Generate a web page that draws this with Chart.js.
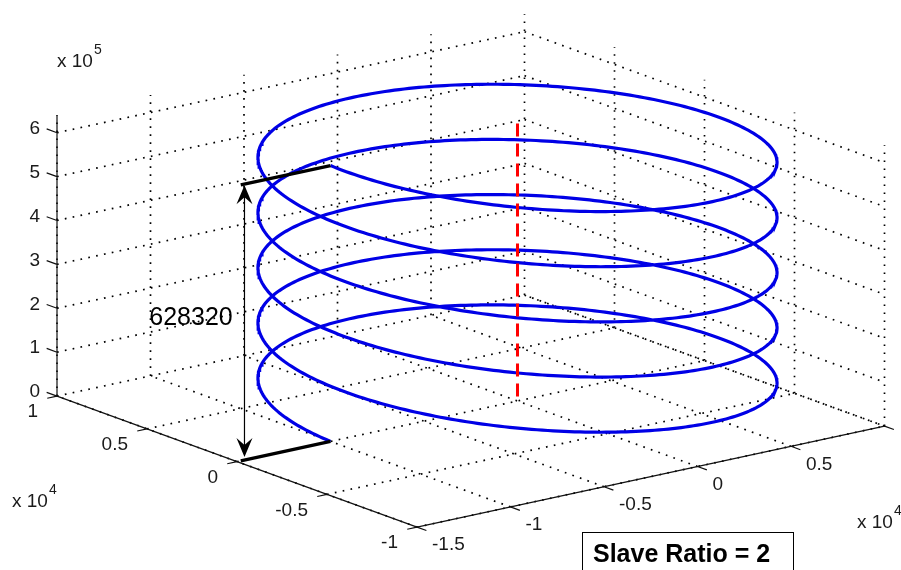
<!DOCTYPE html>
<html>
<head>
<meta charset="utf-8">
<script src="https://cdn.jsdelivr.net/npm/chart.js@4.4.1/dist/chart.umd.min.js"></script>
<style>
html, body { margin: 0; padding: 0; background: #fff; }
#contenedor { width: 901px; height: 570px; }
</style>
</head>
<body>
<div id="contenedor"><canvas id="graficoHelice" width="901" height="570"></canvas></div>
<script>
// ===== datos =====
const radio = 1e4;              // radio de la helice
const slaveRatio = 2;           // z = ratio * radio * angulo
const vueltas = 5;
const alturaMedida = 628320;    // cota de la flecha
const ejeRojoZ = [10000, 645000];   // eje de la helice (x=0, y=0)
const lineasNegrasX = [-14800, -10000];
const flechaX = -14600;

// limites y ticks (x,y en 1e4, z en 1e5)
const limX = [-1.5, 1];
const limY = [-1, 1];
const limZ = [0, 6.4];
const xTicks = [-1.5, -1, -0.5, 0, 0.5, 1];
const xTickLabels = ['-1.5', '-1', '-0.5', '0', '0.5', ''];
const yTicks = [-1, -0.5, 0, 0.5, 1];
const yTickLabels = ['-1', '-0.5', '0', '0.5', '1'];
const zTicks = [0, 1, 2, 3, 4, 5, 6];
const zTickLabels = ['0', '1', '2', '3', '4', '5', '6'];

// ===== vista (proyeccion ortografica, pixeles por unidad) =====
const VISTA = { o: [517.5, 401], ex: [187, -40.4], ey: [-180, -65.5], ez: [0, -43.9] };

function proy(x, y, z) {
    return {
        x: VISTA.o[0] + x * VISTA.ex[0] + y * VISTA.ey[0] + z * VISTA.ez[0],
        y: VISTA.o[1] + x * VISTA.ex[1] + y * VISTA.ey[1] + z * VISTA.ez[1]
    };
}
// datos reales -> unidades de ejes
const p3 = (x, y, z) => proy(x / 1e4, y / 1e4, z / 1e5);

// segmentos sueltos separados por huecos
function segmentos(lista) {
    let out = [];
    lista.forEach(s => { out.push(s[0], s[1], { x: null, y: null }); });
    return out;
}

// helice
let puntosHelice = [];
const pasos = 1500;
for (let i = 0; i <= pasos; i++) {
    let t = i / pasos * vueltas * 2 * Math.PI;
    puntosHelice.push(p3(-radio * Math.cos(t), radio * Math.sin(t), slaveRatio * radio * t));
}

// rejilla punteada
let rejilla = [];
xTicks.forEach(v => {
    rejilla.push([proy(v, limY[0], 0), proy(v, limY[1], 0)]);              // suelo
    rejilla.push([proy(v, limY[1], limZ[0]), proy(v, limY[1], limZ[1])]);  // pared izq
});
yTicks.forEach(v => {
    rejilla.push([proy(limX[0], v, 0), proy(limX[1], v, 0)]);              // suelo
    rejilla.push([proy(limX[1], v, limZ[0]), proy(limX[1], v, limZ[1])]);  // pared der
});
zTicks.forEach(v => {
    rejilla.push([proy(limX[0], limY[1], v), proy(limX[1], limY[1], v)]);
    rejilla.push([proy(limX[1], limY[1], v), proy(limX[1], limY[0], v)]);
});

// ejes y marcas
function unit(v) { let n = Math.hypot(v[0], v[1]); return [v[0] / n, v[1] / n]; }
const dirZt = unit(VISTA.ey), dirYt = unit([-VISTA.ex[0], -VISTA.ex[1]]), dirXt = unit([-VISTA.ey[0], -VISTA.ey[1]]);
let ejes = [
    [proy(limX[0], limY[1], limZ[0]), proy(limX[0], limY[1], limZ[1])],
    [proy(limX[0], limY[0], 0), proy(limX[0], limY[1], 0)],
    [proy(limX[0], limY[0], 0), proy(limX[1], limY[0], 0)]
];
const tk = (p, d, l) => [p, { x: p.x + d[0] * l, y: p.y + d[1] * l }];
zTicks.forEach(v => ejes.push(tk(proy(limX[0], limY[1], v), dirZt, 11)));
yTicks.forEach(v => ejes.push(tk(proy(limX[0], v, 0), dirYt, 10)));
xTicks.forEach(v => ejes.push(tk(proy(v, limY[0], 0), dirXt, 10)));

// lineas negras y eje rojo
const lineasNegras = [
    [p3(lineasNegrasX[0], 0, 0), p3(lineasNegrasX[1], 0, 0)],
    [p3(lineasNegrasX[0], 0, alturaMedida), p3(lineasNegrasX[1], 0, alturaMedida)]
];
const ejeRojo = [p3(0, 0, ejeRojoZ[0]), p3(0, 0, ejeRojoZ[1])];

// ===== textos y flecha =====
const FUENTE = '"Liberation Sans", Arial, sans-serif';
const textos = {
    id: 'textos',
    afterDatasetsDraw(chart) {
        const ctx = chart.ctx;
        const sx = chart.scales.x, sy = chart.scales.y;
        const px = p => [sx.getPixelForValue(p.x), sy.getPixelForValue(p.y)];
        ctx.save();
        ctx.fillStyle = '#1a1a1a';
        ctx.font = '19px ' + FUENTE;
        ctx.textBaseline = 'middle';

        ctx.textAlign = 'right';
        zTicks.forEach((v, i) => {
            let [a, b] = px(proy(limX[0], limY[1], v));
            ctx.fillText(zTickLabels[i], a - 17, b - 4);
        });
        yTicks.forEach((v, i) => {
            let [a, b] = px(proy(limX[0], v, 0));
            ctx.fillText(yTickLabels[i], a - 19, b + 16);
        });
        ctx.textAlign = 'left';
        xTicks.forEach((v, i) => {
            let [a, b] = px(proy(v, limY[0], 0));
            ctx.fillText(xTickLabels[i], a + 15, b + 18);
        });

        // exponentes
        function exponente(x, y, e) {
            ctx.font = '19px ' + FUENTE;
            ctx.fillText('x 10', x, y);
            let w = ctx.measureText('x 10').width;
            ctx.font = '14px ' + FUENTE;
            ctx.fillText(e, x + w + 1, y - 12);
        }
        exponente(57, 62, '5');
        exponente(12, 502, '4');
        exponente(857, 523, '4');

        // flecha doble
        let [fx, f0] = px(p3(flechaX, 0, 0));
        let [, f1] = px(p3(flechaX, 0, alturaMedida));
        ctx.strokeStyle = '#000';
        ctx.lineWidth = 1.2;
        ctx.beginPath();
        ctx.moveTo(fx, f0 - 10); ctx.lineTo(fx, f1 + 10);
        ctx.stroke();
        ctx.fillStyle = '#000';
        function punta(x, y, s) {
            ctx.beginPath();
            ctx.moveTo(x, y);
            ctx.lineTo(x - 8, y + s * 19);
            ctx.lineTo(x, y + s * 12);
            ctx.lineTo(x + 8, y + s * 19);
            ctx.closePath();
            ctx.fill();
        }
        punta(fx, f1 + 1, 1);
        punta(fx, f0 - 3, -1);

        // cota
        ctx.fillStyle = '#000';
        ctx.font = '25px ' + FUENTE;
        ctx.textAlign = 'center';
        ctx.fillText(String(alturaMedida), 191, 318);

        // recuadro
        ctx.fillStyle = '#fff';
        ctx.fillRect(582.5, 532.5, 211, 45);
        ctx.strokeStyle = '#000';
        ctx.lineWidth = 1;
        ctx.strokeRect(582.5, 532.5, 211, 45);
        ctx.fillStyle = '#000';
        ctx.font = 'bold 25px ' + FUENTE;
        ctx.textAlign = 'left';
        ctx.fillText('Slave Ratio = ' + slaveRatio, 593, 555);
        ctx.restore();
    }
};

const ctx = document.getElementById('graficoHelice').getContext('2d');
new Chart(ctx, {
    type: 'scatter',
    plugins: [textos],
    data: {
        datasets: [
            { data: segmentos(lineasNegras), borderColor: '#000', borderWidth: 3.4, order: 1 },
            { data: ejeRojo, borderColor: '#ff0000', borderWidth: 3, borderDash: [13, 7], order: 2 },
            { data: puntosHelice, borderColor: '#0000e6', borderWidth: 3.2, order: 3 },
            { data: segmentos(ejes), borderColor: '#111', borderWidth: 1.2, order: 4 },
            { data: segmentos(rejilla), borderColor: '#000', borderWidth: 1.7, borderDash: [1.7, 6.3], order: 5 }
        ]
    },
    options: {
        responsive: false,
        animation: false,
        devicePixelRatio: 1,
        showLine: true,
        spanGaps: false,
        layout: { padding: 0 },
        elements: { point: { radius: 0, hoverRadius: 0 }, line: { tension: 0, fill: false } },
        scales: {
            x: { type: 'linear', min: 0, max: 901, display: false },
            y: { type: 'linear', min: 0, max: 570, reverse: true, display: false }
        },
        plugins: { legend: { display: false }, tooltip: { enabled: false } }
    }
});
</script>
</body>
</html>
